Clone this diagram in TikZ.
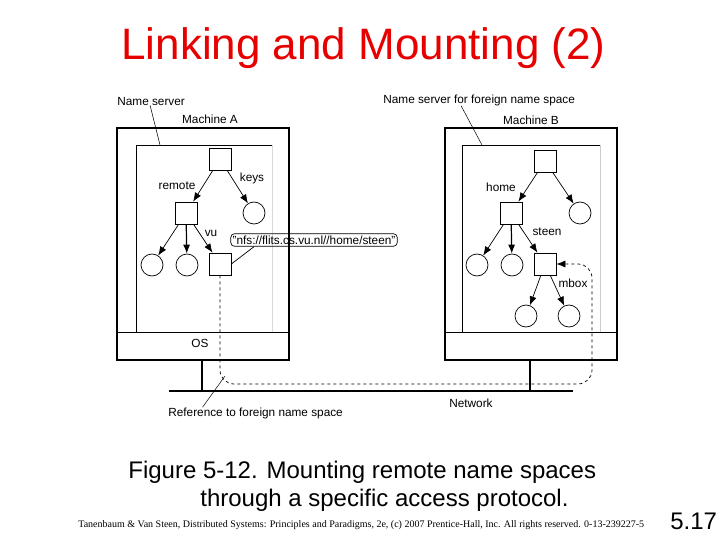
\documentclass[tikz,border=0pt]{standalone}
\usepackage{fontspec}
\setmainfont{Liberation Sans}
\newfontfamily\footfont{Liberation Serif}
\usetikzlibrary{arrows.meta}
\definecolor{titlered}{RGB}{230,0,0}

\tikzset{
	lbl/.style={font=\fontsize{11.8}{13}\selectfont, inner sep=0pt},
	dirnode/.style={draw, minimum size=22pt, inner sep=0pt},
	leafnode/.style={draw, circle, minimum size=22pt, inner sep=0pt},
	nsarrow/.style={-{Latex[length=9pt,width=7pt]}},
	machine/.style={line width=1.5pt},
}

\begin{document}
\begin{tikzpicture}[x=1pt, y=-1pt, line width=0.7pt]
		\useasboundingbox (0,0) rectangle (720,540);

		% Draw the title and the caption
		\node[font=\fontsize{44}{48}\selectfont, text=titlered, anchor=base west, inner sep=0pt] (title) at (121,60) {Linking and Mounting (2)};
		\node[font=\fontsize{24}{28}\selectfont, anchor=base west, inner sep=0pt] (cap1) at (128,478) {Figure 5-12. Mounting remote name spaces};
		\node[font=\fontsize{24}{28}\selectfont, anchor=base west, inner sep=0pt] (cap2) at (200,506) {through a specific access protocol.};
		\node[font=\footfont\fontsize{10}{11}\selectfont, anchor=base west, inner sep=0pt] (foot) at (78,527) {Tanenbaum \& Van Steen, Distributed Systems: Principles and Paradigms, 2e, (c) 2007 Prentice-Hall, Inc. All rights reserved. 0-13-239227-5};
		\node[font=\fontsize{24}{28}\selectfont, anchor=base west, inner sep=0pt] (slide) at (670,529) {5.17};

		% Draw the two machines
		\draw[machine] (117,128) rectangle (289,360);
		\draw (117,332) -- (289,332);
		\draw (136,332) -- (136,145) -- (272,145);
		\draw[gray!30] (272,145) -- (272,332);
		\node[lbl] (os) at (200,343) {OS};

		\draw[machine] (445,128) rectangle (617,360);
		\draw (445,332) -- (617,332);
		\draw (462,332) -- (462,145) -- (600,145);
		\draw[gray!40] (600,145) -- (600,332);

		\node[lbl] (machA) at (210,119) {Machine A};
		\node[lbl] (machB) at (531,120) {Machine B};

		% Draw the network
		\draw[line width=2.2pt] (169,391) -- (573,391);
		\draw[line width=1.8pt] (202,360) -- (202,391);
		\draw[line width=1.8pt] (530,360) -- (530,391);
		\node[lbl] (net) at (471,403) {Network};

		% Draw the name space of machine A
		\node[dirnode] (rootA) at (220,159) {};
		\node[dirnode] (remote) at (186,213) {};
		\node[leafnode] (keys) at (254,213) {};
		\node[leafnode] (leafA1) at (152,265) {};
		\node[leafnode] (leafA2) at (187,265) {};
		\node[dirnode] (vu) at (220,264) {};

		\draw[nsarrow] (rootA) -- (remote);
		\draw[nsarrow] (rootA) -- (keys);
		\draw[nsarrow] (remote) -- (leafA1);
		\draw[nsarrow, line width=1.2pt] (remote) -- (leafA2);
		\draw[nsarrow] (remote) -- (vu);

		\node[lbl] (lremote) at (177,186) {remote};
		\node[lbl] (lkeys) at (252,178) {keys};
		\node[lbl] (lvu) at (211,233) {vu};

		% Draw the name space of machine B
		\node[dirnode] (rootB) at (545,161) {};
		\node[dirnode] (home) at (511,213) {};
		\node[leafnode] (leafB0) at (580,213) {};
		\node[leafnode] (leafB1) at (477,265) {};
		\node[leafnode] (leafB2) at (512,265) {};
		\node[dirnode] (steen) at (545,264) {};
		\node[leafnode] (mboxA) at (526,316) {};
		\node[leafnode] (mboxB) at (569,316) {};

		\draw[nsarrow] (rootB) -- (home);
		\draw[nsarrow] (rootB) -- (leafB0);
		\draw[nsarrow] (home) -- (leafB1);
		\draw[nsarrow, line width=1.2pt] (home) -- (leafB2);
		\draw[nsarrow] (home) -- (steen);
		\draw[nsarrow] (steen) -- (mboxA);
		\draw[nsarrow] (steen) -- (mboxB);

		\node[lbl] (lhome) at (501,187) {home};
		\node[lbl] (lsteen) at (547,232) {steen};
		\node[lbl] (lmbox) at (573,283) {mbox};

		% Draw the mount point reference
		\node[lbl, draw, rounded corners=4pt, inner sep=2pt] (nfs) at (314,240) {"nfs://flits.cs.vu.nl//home/steen"};
		\draw (vu.east) -- ([xshift=-60pt]nfs.south);

		\coordinate (bendA) at (220,384);
		\coordinate (bendB) at (592,384);
		\coordinate (bendC) at (592,264);
		\draw[dashed, rounded corners=14pt, nsarrow] (vu.south) -- (bendA) -- (bendB) -- (bendC) -- (steen.east);

		% Draw the labels with their leaders
		\node[lbl, anchor=base west] (nsA) at (117,106) {Name server};
		\node[lbl, anchor=base west] (nsB) at (383,104) {Name server for foreign name space};
		\node[lbl, anchor=west] (refl) at (168,413) {Reference to foreign name space};

		\coordinate (nsAend) at (160,145);
		\coordinate (nsBend) at (482,145);
		\coordinate (reflend) at (225,376);
		\draw[line width=0.5pt] ([xshift=-1pt, yshift=1pt]nsA.south) -- (nsAend);
		\draw[line width=0.5pt] ([xshift=-18pt, yshift=1pt]nsB.south) -- (nsBend);
		\draw[line width=0.5pt] ([xshift=-53pt]refl.north) -- (reflend);

	\end{tikzpicture}
\end{document}
